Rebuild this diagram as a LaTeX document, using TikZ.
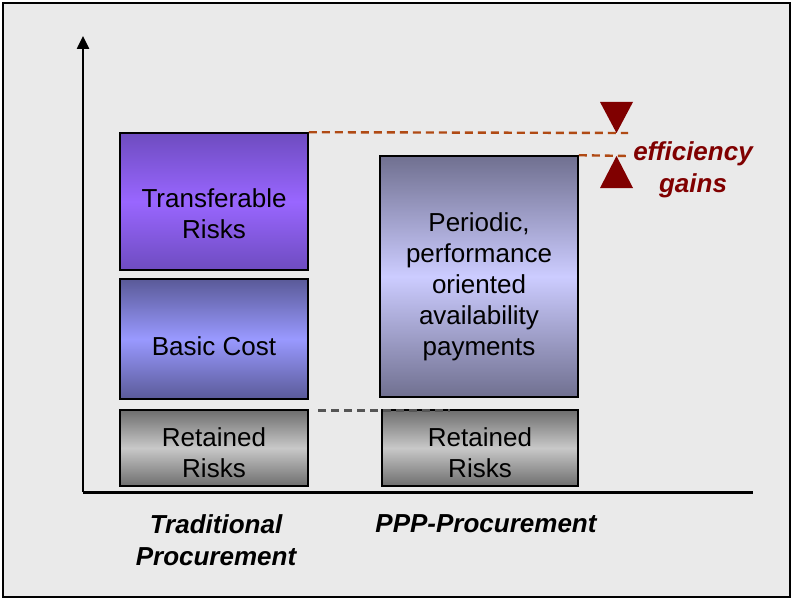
\documentclass[tikz,border=0pt]{standalone}
\usepackage{fontspec}
\setmainfont{Liberation Sans}
\usetikzlibrary{arrows.meta}
\definecolor{bg}{HTML}{EAEAEA}
\definecolor{trtop}{HTML}{6E4CC0}
\definecolor{trmid}{HTML}{9966FF}
\definecolor{bctop}{HTML}{5A5A98}
\definecolor{bcmid}{HTML}{9999FF}
\definecolor{pptop}{HTML}{707090}
\definecolor{ppmid}{HTML}{CCCCFF}
\definecolor{rrtop}{HTML}{6E6E6E}
\definecolor{rrmid}{HTML}{C8C8C8}
\definecolor{effred}{HTML}{800000}
\definecolor{dashor}{HTML}{B04A14}
\definecolor{dashgr}{HTML}{555555}
\begin{document}
\begin{tikzpicture}[x=1pt,y=-1pt,
  box/.style={draw=black, line width=1.6pt, inner sep=0pt, rectangle},
  txt/.style={font=\fontsize{26}{31}\selectfont, align=center, inner sep=0pt, anchor=north},
  lbl/.style={font=\fontsize{26}{32}\selectfont\bfseries\itshape, align=center, inner sep=0pt, anchor=north},
  odash/.style={draw=dashor, line width=2.4pt, dash pattern=on 8pt off 5pt},
  gdash/.style={draw=dashgr, line width=2.4pt, dash pattern=on 8pt off 5pt},
  tri/.style={fill=effred, draw=none}]
\useasboundingbox (0,0) rectangle (792,599);
\draw[line width=2pt, fill=bg] (3,3) rectangle (790,597);

% axes
\coordinate (origin) at (83,492);
\coordinate (ytip) at (83,36);
\coordinate (xend) at (753,492);
\draw[line width=2.5pt, -{Triangle[width=12pt,length=13pt]}] (origin) -- (ytip);
\draw[line width=3pt] (origin) -- (xend);

% boxes
\node[box, minimum width=188pt, minimum height=137pt, top color=trtop, bottom color=trtop, middle color=trmid] (tr) at (214,201.5) {};
\node[box, minimum width=188pt, minimum height=120pt, top color=bctop, bottom color=bctop, middle color=bcmid] (bc) at (214,339) {};
\node[box, minimum width=188pt, minimum height=76pt, top color=rrtop, bottom color=rrtop, middle color=rrmid] (rl) at (214,448) {};
\node[box, minimum width=198pt, minimum height=241pt, top color=pptop, bottom color=pptop, middle color=ppmid] (pp) at (479,276.5) {};
\node[box, minimum width=196pt, minimum height=76pt, top color=rrtop, bottom color=rrtop, middle color=rrmid] (rr) at (480,448) {};

% box texts
\node[txt] (trt) at (214,188) {Transferable\\Risks};
\node[txt] (bct) at (214,336) {Basic Cost};
\node[txt] (rlt) at (214,427) {Retained\\Risks};
\node[txt] (ppt) at (479,212) {Periodic,\\performance\\oriented\\availability\\payments};
\node[txt] (rrt) at (480,427) {Retained\\Risks};

% dashed lines
\coordinate (d1e) at (628,133);
\coordinate (d2e) at (628,156);
\coordinate (g1s) at (318,410.5);
\coordinate (g1e) at (450,410.5);
\draw[odash] (tr.north east) -- (d1e);
\draw[odash] (pp.north east) -- (d2e);
\draw[gdash] (g1s) -- (g1e);

% triangles
\coordinate (tdn) at (616.5,133);
\coordinate (tup) at (616.5,156);
\fill[tri] (tdn) -- (600,102) -- (633,102) -- cycle;
\fill[tri] (tup) -- (600,188) -- (633,188) -- cycle;

% efficiency gains
\node[lbl, text=effred] (eff) at (693,141) {efficiency\\gains};

% bottom labels
\node[lbl] (trad) at (216,514) {Traditional\\Procurement};
\node[lbl] (ppp) at (486,514) {PPP-Procurement};
\end{tikzpicture}
\end{document}
